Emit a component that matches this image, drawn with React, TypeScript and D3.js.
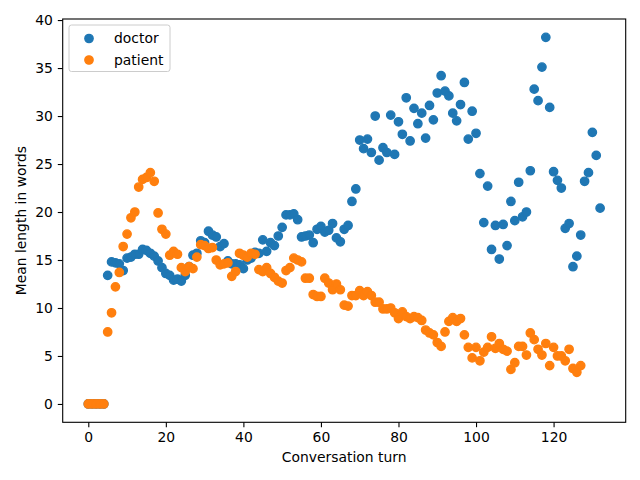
import React, { useEffect, useRef } from "react";
import * as d3 from "d3";

// Mean length in words per conversation turn
const doctorLengths = [
  0, 0, 0, 0, 0, 13.4, 14.8, 14.7, 14.6, 13.9,
  15.2, 15.3, 15.6, 15.6, 16.1, 16.0, 15.7, 15.4, 14.9, 14.2,
  13.6, 13.4, 12.9, 13.0, 12.8, 13.4, 14.3, 15.5, 15.7, 17.0,
  16.8, 18.0, 17.6, 17.4, 16.4, 16.7, 14.9, 14.6, 14.6, 14.5,
  14.1, 15.0, 15.2, 15.8, 15.7, 17.1, 15.9, 16.8, 16.5, 17.5,
  18.4, 19.7, 19.7, 19.8, 19.2, 17.4, 17.5, 17.6, 16.8, 18.2,
  18.5, 17.9, 18.1, 18.8, 17.3, 16.9, 18.2, 18.6, 21.1, 22.4,
  27.5, 26.6, 27.6, 26.2, 30.0, 25.4, 26.7, 26.2, 30.1, 26.0,
  29.4, 28.1, 31.9, 27.4, 30.8, 29.2, 30.3, 27.7, 31.1, 29.6,
  32.4, 34.2, 32.6, 32.1, 30.3, 29.5, 31.2, 33.5, 27.6, 30.5,
  28.2, 24.0, 18.9, 22.7, 16.1, 18.6, 15.1, 18.7, 16.5, 21.1,
  19.1, 23.1, 19.5, 20.0, 24.3, 32.8, 31.6, 35.1, 38.2, 30.9,
  24.2, 23.3, 22.5, 18.3, 18.8, 14.3, 15.4, 17.6, 23.2, 24.1,
  28.3, 25.9, 20.4,
];

const patientLengths = [
  0, 0, 0, 0, 0, 7.5, 9.5, 12.2, 13.7, 16.4,
  17.7, 19.4, 20.0, 22.6, 23.4, 23.6, 24.1, 23.2, 19.9, 18.2,
  17.7, 15.5, 15.9, 15.6, 14.2, 13.8, 14.3, 14.1, 15.3, 16.6,
  16.5, 16.2, 16.3, 15.0, 14.5, 14.6, 14.7, 13.3, 13.8, 15.7,
  15.5, 15.3, 15.7, 15.6, 14.0, 13.8, 14.2, 13.6, 13.2, 12.8,
  12.6, 13.9, 14.2, 15.2, 15.0, 14.8, 13.1, 13.1, 11.4, 11.2,
  11.2, 13.1, 12.6, 11.9, 12.5, 11.9, 10.3, 10.2, 11.3, 11.3,
  11.8, 11.3, 11.7, 11.3, 10.6, 10.6, 9.9, 9.9, 10.0, 9.5,
  8.9, 9.6, 9.1, 8.9, 9.1, 9.0, 8.7, 7.7, 7.4, 7.2,
  6.4, 6.0, 7.5, 8.6, 9.0, 8.6, 8.9, 7.2, 5.9, 4.8,
  5.9, 4.5, 5.4, 5.9, 7.0, 5.8, 6.3, 5.7, 5.5, 3.6,
  4.3, 6.0, 6.0, 5.1, 7.4, 6.7, 5.7, 5.1, 6.3, 4.0,
  5.9, 5.0, 5.0, 4.5, 5.7, 3.7, 3.3, 4.0,
];

const seriesNames = ["doctor", "patient"];
const seriesColors = ["#1f77b4", "#ff7f0e"];
const xTicks = [0, 20, 40, 60, 80, 100, 120];
const yTicks = [0, 5, 10, 15, 20, 25, 30, 35, 40];

const App: React.FC = () => {
  const svgRef = useRef<SVGSVGElement>(null);

  useEffect(() => {
    document.body.style.margin = "0";
    if (!svgRef.current) return;
    const svg = d3.select(svgRef.current);
    svg.selectAll("*").remove();

    const width = 640;
    const height = 480;
    const margin = { top: 19, right: 14.3, bottom: 57.7, left: 62.7 };
    const innerWidth = width - margin.left - margin.right;
    const innerHeight = height - margin.top - margin.bottom;
    const font = "DejaVu Sans, sans-serif";
    const markerR = 4.17;
    const markerEdge = 1.39;

    const allSeries = [doctorLengths, patientLengths];
    const maxX = d3.max(allSeries, (s) => s.length - 1) || 0;
    const maxY = d3.max(allSeries, (s) => d3.max(s)) || 0;
    const padX = maxX * 0.05;
    const padY = maxY * 0.05;

    const x = d3
      .scaleLinear()
      .domain([-padX, maxX + padX])
      .range([0, innerWidth]);
    const y = d3
      .scaleLinear()
      .domain([-padY, maxY + padY])
      .range([innerHeight, 0]);

    const g = svg
      .append("g")
      .attr("transform", `translate(${margin.left},${margin.top})`);

    // Points
    allSeries.forEach((values, i) => {
      g.append("g")
        .selectAll("circle")
        .data(values)
        .enter()
        .append("circle")
        .attr("cx", (_d, j) => x(j))
        .attr("cy", (d) => y(d))
        .attr("r", markerR)
        .attr("fill", seriesColors[i])
        .attr("stroke", seriesColors[i])
        .attr("stroke-width", markerEdge);
    });

    // Axes
    const xAxis = g
      .append("g")
      .attr("transform", `translate(0,${innerHeight})`)
      .call(d3.axisBottom(x).tickValues(xTicks).tickSize(4.9).tickPadding(4.9).tickFormat(d3.format("d")));
    const yAxis = g
      .append("g")
      .call(d3.axisLeft(y).tickValues(yTicks).tickSize(4.9).tickPadding(4.9).tickFormat(d3.format("d")));

    [xAxis, yAxis].forEach((ax) => {
      ax.selectAll(".domain").remove();
      ax.selectAll("line").attr("stroke", "#000").attr("stroke-width", 1.1);
      ax.selectAll("text")
        .attr("font-family", font)
        .attr("font-size", 13.9)
        .attr("fill", "#000");
    });

    // Frame
    g.append("rect")
      .attr("width", innerWidth)
      .attr("height", innerHeight)
      .attr("fill", "none")
      .attr("stroke", "#000")
      .attr("stroke-width", 1.1);

    // Axis labels
    svg
      .append("text")
      .attr("x", margin.left + innerWidth / 2)
      .attr("y", 462)
      .attr("text-anchor", "middle")
      .attr("font-family", font)
      .attr("font-size", 13.9)
      .text("Conversation turn");
    svg
      .append("text")
      .attr("transform", `translate(26,${margin.top + innerHeight / 2}) rotate(-90)`)
      .attr("text-anchor", "middle")
      .attr("font-family", font)
      .attr("font-size", 13.9)
      .text("Mean length in words");

    // Legend
    const legend = svg.append("g").attr("transform", "translate(69,25)");
    legend
      .append("rect")
      .attr("width", 101)
      .attr("height", 46.5)
      .attr("rx", 2.5)
      .attr("fill", "#fff")
      .attr("fill-opacity", 0.8)
      .attr("stroke", "#ccc")
      .attr("stroke-width", 1);
    seriesNames.forEach((name, i) => {
      const row = legend.append("g").attr("transform", `translate(0,${13.5 + i * 21.5})`);
      row
        .append("circle")
        .attr("cx", 20)
        .attr("cy", 0)
        .attr("r", markerR)
        .attr("fill", seriesColors[i])
        .attr("stroke", seriesColors[i])
        .attr("stroke-width", markerEdge);
      row
        .append("text")
        .attr("x", 45)
        .attr("y", 0)
        .attr("dy", "0.35em")
        .attr("font-family", font)
        .attr("font-size", 13.9)
        .text(name);
    });
  }, []);

  return <svg ref={svgRef} width={640} height={480} style={{ display: "block" }} />;
};

export default App;
